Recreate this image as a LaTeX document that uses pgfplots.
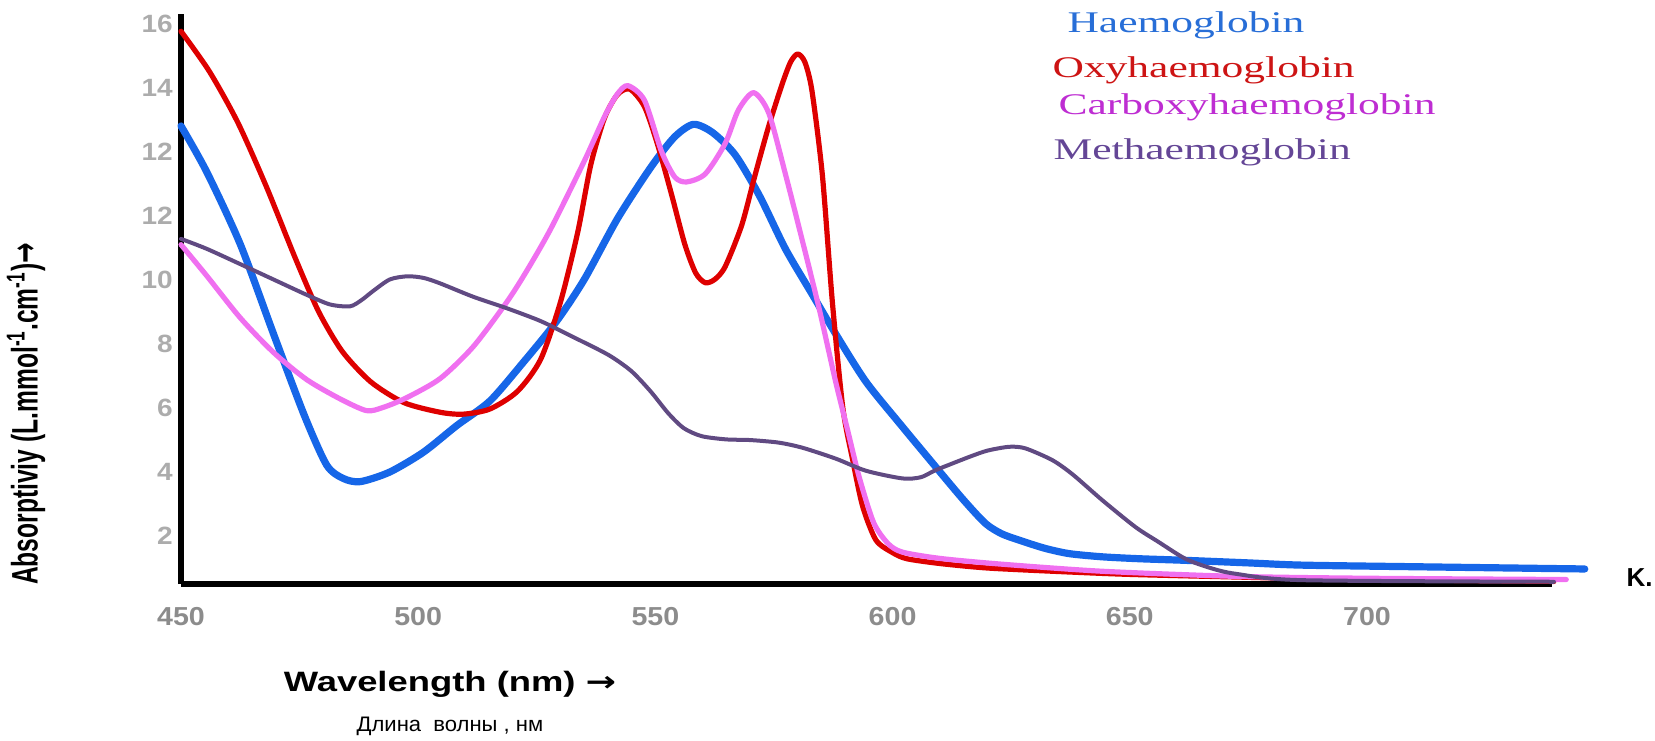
\documentclass[border=0pt]{standalone}
\usepackage{fontspec}
\setmainfont{Liberation Serif}
\newfontfamily\arialfont{Liberation Sans}
\newfontfamily\dejavu{DejaVu Sans}
\usepackage{pgfplots}
\pgfplotsset{compat=1.18}
\definecolor{hbblue}{RGB}{22,102,232}
\definecolor{oxred}{RGB}{222,0,0}
\definecolor{copink}{RGB}{240,112,240}
\definecolor{metpurple}{RGB}{96,74,130}
\definecolor{ticky}{RGB}{172,172,172}
\definecolor{tickx}{RGB}{140,140,140}
\definecolor{lgblue}{RGB}{40,110,215}
\definecolor{lgred}{RGB}{205,20,20}
\definecolor{lgpink}{RGB}{190,45,210}
\definecolor{lgpurple}{RGB}{100,70,150}
\begin{document}
\begin{tikzpicture}
\useasboundingbox (0,0) rectangle (827.5pt,370pt);
\begin{axis}[
  at={(90.5pt,78pt)}, anchor=south west,
  width=685.5pt, height=285pt, scale only axis,
  xmin=450, xmax=739, ymin=0.48, ymax=18.3,
  axis lines=left,
  axis line style={-, line width=3pt, black},
  xtick={450,500,550,600,650,700},
  xticklabels={450,500,550,600,650,700},
  ytick={2,4,6,8,10,12,14,16,18},
  yticklabels={2,4,6,8,10,12,12,14,16},
  major tick length=0pt,
  xticklabel style={font=\arialfont\bfseries\fontsize{13}{13}\selectfont, text=tickx, xscale=1.1, yshift=-8pt},
  yticklabel style={font=\arialfont\bfseries\fontsize{12.5}{12.5}\selectfont, text=ticky, xscale=1.12, inner sep=0pt, xshift=-3.5pt},
  clip=false,
  every axis plot/.append style={smooth, tension=0.45, line join=round, line cap=round},
]
\addplot[hbblue, line width=3.6pt] coordinates {
(450,14.8) (455.4,13.37) (462.5,11.1) (469.5,8.3) (476,5.75) (480.7,4.2) (484.2,3.78) (487.8,3.68) (494,3.98) (501.1,4.6) (508.1,5.43) (515.1,6.2) (522.1,7.4) (529.1,8.68) (535,10.0) (542,11.9) (549,13.5) (554,14.45) (558,14.85) (562,14.6) (566.8,13.9) (572,12.6) (577.4,10.96) (583,9.55) (588,8.3) (594.4,6.8) (602.1,5.39) (609.1,4.14) (615,3.1) (619.6,2.37) (623,2.05) (626.7,1.85) (632,1.6) (637.2,1.43) (644.2,1.33) (652,1.27) (661.7,1.22) (675,1.14) (686.3,1.07) (710,1.02) (745.9,0.95)
};
\addplot[oxred, line width=2.6pt] coordinates {
(450,17.76) (456,16.5) (462,14.9) (468,12.9) (474,10.7) (479,9.0) (484,7.75) (490,6.8) (497,6.15) (504.6,5.85) (509.5,5.79) (515.1,5.95) (520.9,6.5) (525.8,7.5) (530,9.3) (533.6,11.46) (536.4,13.6) (539.3,15.06) (542,15.78) (544.6,15.95) (547.7,15.4) (550.5,14.2) (553.4,12.66) (556.2,11.1) (558.5,10.2) (560.5,9.9) (562.5,10.0) (564.7,10.4) (568.2,11.7) (571,13.26) (573.9,14.8) (576.7,16.1) (578.5,16.8) (580,17.05) (581.5,16.8) (583,15.9) (585.2,13.26) (587.3,9.3) (589.5,6.0) (591.6,4.35) (593.7,2.9) (596.5,1.85) (600,1.46) (603,1.27) (610,1.12) (620,0.98) (635,0.87) (650,0.78) (672,0.7) (690,0.64) (739.4,0.56)
};
\addplot[copink, line width=2.6pt] coordinates {
(450,11.09) (455.4,10.12) (462.5,8.8) (469.5,7.72) (476.5,6.87) (483.5,6.27) (489.1,5.9) (492.6,6.0) (497.5,6.3) (504.6,6.9) (511.6,7.9) (518.7,9.3) (523,10.3) (528,11.6) (535,13.7) (539.3,15.1) (542,15.8) (544.2,16.06) (547.7,15.6) (551.3,14.0) (554.1,13.2) (556.6,13.05) (560.5,13.3) (564.7,14.25) (567.5,15.3) (570.7,15.84) (573.9,15.2) (577.4,13.3) (581,11.2) (584.5,9.1) (588,6.8) (590.5,5.3) (593,3.8) (596,2.4) (599,1.75) (602,1.48) (610,1.28) (623,1.1) (644,0.88) (672,0.72) (700,0.66) (742,0.62)
};
\addplot[metpurple, line width=2pt] coordinates {
(450,11.27) (455.4,10.96) (462.5,10.48) (469.5,10.0) (476.5,9.52) (481.4,9.22) (485.6,9.16) (488,9.35) (490.5,9.64) (494,10.0) (497.7,10.1) (501.1,10.05) (504.6,9.88) (511.6,9.46) (518.7,9.1) (525.8,8.7) (532,8.25) (540,7.65) (544.9,7.14) (549,6.5) (552.7,5.82) (556,5.35) (559.8,5.1) (565,5.0) (570,4.98) (576,4.9) (581,4.74) (588,4.4) (594.4,4.02) (602.1,3.78) (606,3.82) (609.1,4.04) (616.1,4.45) (620,4.65) (624.6,4.77) (628,4.72) (633.7,4.35) (638,3.9) (644.2,3.1) (651.2,2.26) (656,1.8) (661.7,1.27) (667,0.98) (672.3,0.8) (686.3,0.6) (739.4,0.55)
};
\end{axis}
% legend-like labels
\node[anchor=west, text=lgblue, font=\fontsize{15}{15}\selectfont, xscale=1.45, inner sep=0pt] at (533.5pt,357.5pt) {Haemoglobin};
\node[anchor=west, text=lgred, font=\fontsize{15}{15}\selectfont, xscale=1.45, inner sep=0pt] at (526pt,335pt) {Oxyhaemoglobin};
\node[anchor=west, text=lgpink, font=\fontsize{15}{15}\selectfont, xscale=1.45, inner sep=0pt] at (529pt,316.5pt) {Carboxyhaemoglobin};
\node[anchor=west, text=lgpurple, font=\fontsize{15}{15}\selectfont, xscale=1.45, inner sep=0pt] at (526.5pt,294pt) {Methaemoglobin};
% axis titles
\node[font=\arialfont\bfseries\fontsize{12.3}{12.3}\selectfont, xscale=1.5, rotate=90, inner sep=0pt] at (13pt,163pt) {Absorptiviy (L.mmol\textsuperscript{-1}.cm\textsuperscript{-1}){\dejavu\bfseries →}};
\node[font=\arialfont\bfseries\fontsize{14}{14}\selectfont, xscale=1.3, inner sep=0pt] at (225pt,28pt) {Wavelength (nm) {\dejavu\bfseries →}};
\node[font=\arialfont\fontsize{10.5}{10.5}\selectfont, xscale=1.05, inner sep=0pt] at (225pt,7pt) {Длина\ \ волны , нм};
\node[font=\arialfont\bfseries\fontsize{13}{13}\selectfont, anchor=east, inner sep=0pt] at (826.5pt,81pt) {K.};
\end{tikzpicture}
\end{document}
